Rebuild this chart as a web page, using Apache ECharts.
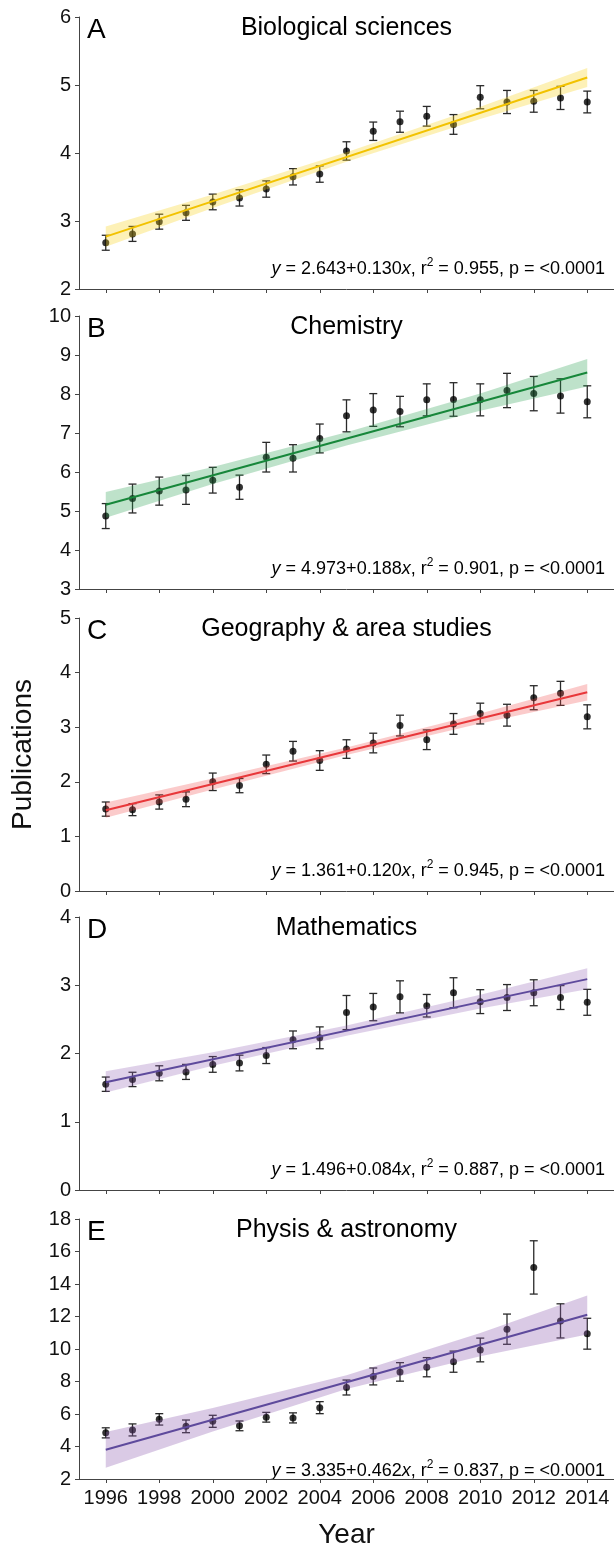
<!DOCTYPE html>
<html><head><meta charset="utf-8">
<script src="https://cdn.jsdelivr.net/npm/echarts@6/dist/echarts.min.js"></script>
<style>html,body{margin:0;padding:0;background:#fff}#c{width:614px;height:1550px}</style>
</head><body><div id="c"></div><script>
// ---------- data ----------
const years = [1996,1997,1998,1999,2000,2001,2002,2003,2004,2005,2006,2007,2008,2009,2010,2011,2012,2013,2014];
const xTickYears = [1996,1998,2000,2002,2004,2006,2008,2010,2012,2014];
const bandYears = [1996,2000,2005,2010,2014];
const fitYears = [1996,2014];

const bioMean = [2.68,2.81,2.99,3.12,3.28,3.34,3.47,3.65,3.69,4.03,4.32,4.46,4.54,4.42,4.82,4.75,4.76,4.81,4.75];
const bioErr  = [0.11,0.11,0.11,0.11,0.115,0.12,0.12,0.12,0.12,0.135,0.135,0.155,0.145,0.145,0.17,0.17,0.16,0.17,0.16];
const bioFit = [2.77,5.11];
const bioBandLow  = [2.62,3.19,3.87,4.50,4.97];
const bioBandHigh = [2.92,3.39,4.01,4.68,5.25];

const chemMean = [4.87,5.32,5.51,5.54,5.79,5.61,6.38,6.35,6.86,7.44,7.59,7.55,7.85,7.86,7.85,8.09,8.01,7.95,7.80];
const chemErr  = [0.32,0.37,0.36,0.37,0.33,0.31,0.38,0.35,0.37,0.41,0.42,0.39,0.41,0.43,0.41,0.44,0.44,0.44,0.41];
const chemFit = [5.16,8.55];
const chemBandLow  = [4.83,5.69,6.68,7.57,8.19];
const chemBandHigh = [5.49,6.13,7.02,8.01,8.90];

const geoMean = [1.50,1.49,1.63,1.68,2.00,1.93,2.32,2.56,2.39,2.60,2.71,3.03,2.77,3.06,3.25,3.22,3.54,3.62,3.19];
const geoErr  = [0.13,0.11,0.13,0.135,0.16,0.13,0.17,0.18,0.18,0.17,0.18,0.19,0.18,0.19,0.19,0.20,0.22,0.22,0.22];
const geoFit = [1.48,3.64];
const geoBandLow  = [1.34,1.86,2.49,3.07,3.49];
const geoBandHigh = [1.62,2.06,2.63,3.25,3.79];

const mathMean = [1.55,1.62,1.71,1.73,1.84,1.86,1.97,2.20,2.23,2.60,2.68,2.83,2.70,2.89,2.76,2.82,2.89,2.82,2.75];
const mathErr  = [0.105,0.105,0.11,0.11,0.115,0.115,0.117,0.13,0.16,0.25,0.20,0.235,0.165,0.22,0.175,0.19,0.19,0.175,0.19];
const mathFit = [1.58,3.09];
const mathBandLow  = [1.43,1.82,2.26,2.66,2.94];
const mathBandHigh = [1.74,2.02,2.41,2.86,3.25];

const physMean = [4.84,5.02,5.67,5.24,5.55,5.27,5.80,5.76,6.39,7.63,8.31,8.59,8.88,9.22,9.94,11.22,15.02,11.73,10.94];
const physErr  = [0.31,0.37,0.35,0.39,0.37,0.30,0.30,0.31,0.37,0.46,0.52,0.57,0.59,0.65,0.73,0.93,1.64,1.05,0.95];
const physFit = [3.80,12.11];
const physBandLow  = [2.70,4.93,7.54,9.55,10.90];
const physBandHigh = [4.90,6.37,8.38,10.99,13.30];

const panelLetters = ['A','B','C','D','E'];
const panelTitles = ['Biological sciences','Chemistry','Geography & area studies','Mathematics','Physis & astronomy'];
const panelEquations = [
  '{i|y} = 2.643+0.130{i|x}, r{s|2} = 0.955, p = <0.0001',
  '{i|y} = 4.973+0.188{i|x}, r{s|2} = 0.901, p = <0.0001',
  '{i|y} = 1.361+0.120{i|x}, r{s|2} = 0.945, p = <0.0001',
  '{i|y} = 1.496+0.084{i|x}, r{s|2} = 0.887, p = <0.0001',
  '{i|y} = 3.335+0.462{i|x}, r{s|2} = 0.837, p = <0.0001'
];
const yMins = [2,3,0,0,2];
const yMaxs = [6,10,5,4,18];
const yIntervals = [1,1,1,1,2];

// ---------- layout / style ----------
const FONT = '"Liberation Sans", Arial, Helvetica, sans-serif';
const panels = [
  {top:17,  height:272, mean:bioMean,  err:bioErr,  fit:bioFit,  lo:bioBandLow,  hi:bioBandHigh,  line:'#f2c200', band:'rgba(250,212,30,0.32)'},
  {top:316, height:273, mean:chemMean, err:chemErr, fit:chemFit, lo:chemBandLow, hi:chemBandHigh, line:'#17873a', band:'rgba(40,160,80,0.30)'},
  {top:618, height:273, mean:geoMean,  err:geoErr,  fit:geoFit,  lo:geoBandLow,  hi:geoBandHigh,  line:'#e8373a', band:'rgba(240,70,70,0.28)'},
  {top:917, height:273, mean:mathMean, err:mathErr, fit:mathFit, lo:mathBandLow, hi:mathBandHigh, line:'#5e4a9c', band:'rgba(140,90,175,0.28)'},
  {top:1219,height:272, mean:physMean, err:physErr, fit:physFit, lo:physBandLow, hi:physBandHigh, line:'#5e4a9c', band:'rgba(140,90,175,0.32)'}
];
const GL = 79, GW = 535;
const AX = '#444';

const grid = [], xAxis = [], yAxis = [], series = [], graphic = [];
panels.forEach((p, i) => {
  grid.push({left:GL, width:GW, top:p.top, height:p.height});
  xAxis.push({
    gridIndex:i, type:'value', min:1995, max:2015,
    splitLine:{show:false},
    axisLine:{show:true, onZero:false, lineStyle:{color:AX, width:1}},
    axisTick:{show:true, length:4, customValues:xTickYears, lineStyle:{color:AX}},
    axisLabel:{show:i===4, customValues:xTickYears, formatter:v=>String(v), fontSize:20, fontFamily:FONT, color:'#111', margin:9},
    name: i===4 ? 'Year' : '', nameLocation:'middle', nameGap:42,
    nameTextStyle:{fontSize:28, fontFamily:FONT, color:'#111'}
  });
  yAxis.push({
    gridIndex:i, type:'value', min:yMins[i], max:yMaxs[i], interval:yIntervals[i],
    splitLine:{show:false},
    axisLine:{show:true, onZero:false, lineStyle:{color:AX, width:1}},
    axisTick:{show:true, length:4, lineStyle:{color:AX}},
    axisLabel:{fontSize:20, fontFamily:FONT, color:'#111', margin:8},
    name: i===2 ? 'Publications' : '', nameLocation:'middle', nameGap:42, nameRotate:90,
    nameTextStyle:{fontSize:28, fontFamily:FONT, color:'#111'}
  });
  // error bars
  series.push({
    type:'custom', xAxisIndex:i, yAxisIndex:i, z:2, silent:true,
    data: years.map((y, j) => [y, p.mean[j] - p.err[j], p.mean[j] + p.err[j]]),
    encode:{x:0, y:[1,2]},
    renderItem:(params, api) => {
      const x = api.value(0);
      const a = api.coord([x, api.value(1)]);
      const b = api.coord([x, api.value(2)]);
      const w = 4;
      const st = {stroke:'#2a2a2a', lineWidth:1.3};
      return {type:'group', children:[
        {type:'line', shape:{x1:a[0], y1:a[1], x2:b[0], y2:b[1]}, style:st},
        {type:'line', shape:{x1:a[0]-w, y1:a[1], x2:a[0]+w, y2:a[1]}, style:st},
        {type:'line', shape:{x1:b[0]-w, y1:b[1], x2:b[0]+w, y2:b[1]}, style:st}
      ]};
    }
  });
  // points
  series.push({
    type:'scatter', xAxisIndex:i, yAxisIndex:i, z:3, silent:true,
    symbol:'circle', symbolSize:7, itemStyle:{color:'#000'},
    data: years.map((y, j) => [y, p.mean[j]])
  });
  // confidence band
  series.push({
    type:'custom', xAxisIndex:i, yAxisIndex:i, z:4, silent:true,
    data: bandYears.map((y, j) => [y, p.lo[j], p.hi[j]]),
    encode:{x:0, y:[1,2]},
    renderItem:(params, api) => {
      if (params.dataIndex !== 0) return null;
      const up = [], dn = [];
      bandYears.forEach((y, j) => {
        up.push(api.coord([api.value(0, j), api.value(2, j)]));
        dn.push(api.coord([api.value(0, j), api.value(1, j)]));
      });
      return {type:'polygon', shape:{points: up.concat(dn.reverse())}, style:{fill:p.band, stroke:null}};
    }
  });
  // fitted line
  series.push({
    type:'line', xAxisIndex:i, yAxisIndex:i, z:5, silent:true,
    symbol:'none', lineStyle:{color:p.line, width:2},
    data: fitYears.map((y, j) => [y, p.fit[j]])
  });
  // texts
  graphic.push({type:'text', x:GL+8, y:p.top+13, silent:true,
    style:{text:panelLetters[i], fontSize:28, fontFamily:FONT, fill:'#000', align:'left', verticalAlign:'middle'}});
  graphic.push({type:'text', x:GL+GW/2, y:p.top+11, silent:true,
    style:{text:panelTitles[i], fontSize:25, fontFamily:FONT, fill:'#000', align:'center', verticalAlign:'middle'}});
  graphic.push({type:'text', x:605, y:p.top+p.height-20, silent:true,
    style:{text:panelEquations[i], fontSize:18, fontFamily:FONT, fill:'#000', align:'right', verticalAlign:'middle', lineHeight:24,
      rich:{
        i:{fontSize:18, fontFamily:FONT, fontStyle:'italic', fill:'#000', lineHeight:24},
        s:{fontSize:12, fontFamily:FONT, fill:'#000', verticalAlign:'top', lineHeight:12}
      }}});
});

const chart = echarts.init(document.getElementById('c'), null, {renderer:'canvas'});
chart.setOption({animation:false, backgroundColor:'#fff', grid, xAxis, yAxis, series, graphic});
</script></body></html>
